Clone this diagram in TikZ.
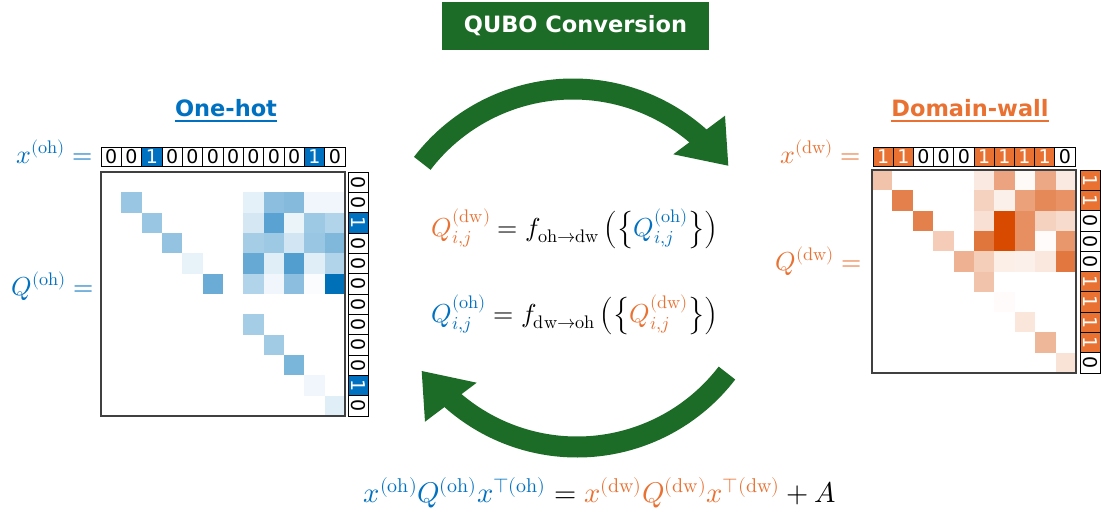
\documentclass[tikz,border=0pt]{standalone}
\usepackage{fontspec}
\usepackage{unicode-math}
\setmainfont{DejaVu Sans}
\setmathfont{Latin Modern Math}
\definecolor{ohblue}{HTML}{0070C0}
\definecolor{dworange}{HTML}{E97132}
\definecolor{ohcell}{HTML}{0070B8}
\definecolor{dwcell}{HTML}{D84A00}
\definecolor{qgreen}{HTML}{1C6B26}
\definecolor{boxgray}{HTML}{404040}
\newcommand{\oh}{\symup{oh}}
\newcommand{\dw}{\symup{dw}}
\tikzset{
  bitbox/.style={draw=black, line width=0.8pt, inner sep=0pt, anchor=center,
    font=\fontsize{19}{19}\selectfont},
  bz/.style={bitbox, fill=white, text=black},
  ohb/.style={bitbox, fill=ohblue, text=white},
  dwb/.style={bitbox, fill=dworange, text=white},
  heading/.style={font=\fontsize{22.5}{26}\selectfont\bfseries, inner sep=0pt, anchor=base},
  mathlbl/.style={font=\fontsize{26}{30}\selectfont, inner sep=0pt},
  bigmath/.style={font=\fontsize{28.5}{32}\selectfont, inner sep=0pt},
  bigarrow/.style={draw=qgreen, line width=21pt},
  headfill/.style={fill=qgreen},
  frame/.style={draw=boxgray, line width=1.3pt}
}
\begin{document}
\begin{tikzpicture}[x=1pt,y=1pt]
\useasboundingbox (0,0) rectangle (1101,-517);

% title
\node[fill=qgreen, text=white, minimum width=267pt, minimum height=48pt, inner sep=0pt,
  font=\fontsize{22.5}{26}\selectfont\bfseries] (title) at (575.5,-26) {QUBO Conversion};

% headings
\node[heading, text=ohblue] (hoh) at (226,-116.7) {One-hot};
\draw[ohblue, line width=1.8pt] ([yshift=-4.5pt]hoh.base west) -- ([yshift=-4.5pt]hoh.base east);
\node[heading, text=dworange] (hdw) at (970,-116.7) {Domain-wall};
\draw[dworange, line width=1.8pt] ([yshift=-4.5pt]hdw.base west) -- ([yshift=-4.5pt]hdw.base east);

% labels
\node[mathlbl, anchor=base east] (xoh) at (93,-163) {\color{ohblue}$x^{(\oh)}=$};
\node[mathlbl, anchor=base east] (qoh) at (94,-295) {\color{ohblue}$Q^{(\oh)}=$};
\node[mathlbl, anchor=base east] (xdw) at (861,-163) {\color{dworange}$x^{(\dw)}=$};
\node[mathlbl, anchor=base east] (qdw) at (862,-270) {\color{dworange}$Q^{(\dw)}=$};

% one-hot matrix cells
\foreach \r/\c/\v in {1/1/40, 1/7/10, 1/8/45, 1/9/48, 1/10/6, 1/11/6,
  2/2/40, 2/7/17, 2/8/65, 2/9/8, 2/10/38, 2/11/30,
  3/3/42, 3/7/35, 3/8/38, 3/9/18, 3/10/40, 3/11/50,
  4/4/9, 4/7/60, 4/8/12, 4/9/68, 4/10/12, 4/11/30,
  5/5/58, 5/7/30, 5/8/6, 5/9/45, 5/10/2, 5/11/100,
  7/7/35, 8/8/37, 9/9/52, 10/10/6, 11/11/12}
  \fill[ohcell!\v!white] ({101+20.333*\c},{-172-20.333*\r}) rectangle ++(20.333,-20.333);
\draw[frame] (101,-172) rectangle (345,-416);

% domain-wall matrix cells
\foreach \r/\c/\v in {0/0/33, 0/5/12, 0/6/50, 0/7/3, 0/8/48, 0/9/12,
  1/1/70, 1/5/25, 1/6/8, 1/7/52, 1/8/65, 1/9/60,
  2/2/70, 2/5/17, 2/6/100, 2/7/62, 2/8/25, 2/9/20,
  3/3/28, 3/5/76, 3/6/100, 3/7/62, 3/8/2, 3/9/58,
  4/4/43, 4/5/27, 4/6/9, 4/7/8, 4/8/13, 4/9/75,
  5/5/33, 6/6/2, 7/7/14, 8/8/40, 9/9/16}
  \fill[dwcell!\v!white] ({872+20.4*\c},{-170-20.3*\r}) rectangle ++(20.4,-20.3);
\draw[frame] (872,-170) rectangle (1076,-373);

% one-hot vectors
\foreach \b/\s [count=\i from 0] in {0/bz,0/bz,1/ohb,0/bz,0/bz,0/bz,0/bz,0/bz,0/bz,0/bz,1/ohb,0/bz}{
  \node[\s, minimum width=20.333pt, minimum height=19pt] (ohr\i) at ({101+20.333*(\i+0.5)},-156.5) {\b};
  \node[\s, rotate=-90, minimum width=20.333pt, minimum height=20pt] (ohc\i) at (358,{-172-20.333*(\i+0.5)}) {\b};
}
% domain-wall vectors
\foreach \b/\s [count=\i from 0] in {1/dwb,1/dwb,0/bz,0/bz,0/bz,1/dwb,1/dwb,1/dwb,1/dwb,0/bz}{
  \node[\s, minimum width=20.2pt, minimum height=19pt] (dwr\i) at ({873+20.2*(\i+0.5)},-156.5) {\b};
  \node[\s, rotate=-90, minimum width=20.3pt, minimum height=20pt] (dwc\i) at (1090,{-170-20.3*(\i+0.5)}) {\b};
}

% formulas
\node[mathlbl] (f1) at (575,-229) {$\textcolor{dworange}{Q^{(\dw)}_{i,j}} = f_{\oh\to\dw}\left(\left\{\textcolor{ohblue}{Q^{(\oh)}_{i,j}}\right\}\right)$};
\node[mathlbl] (f2) at (575,-315) {$\textcolor{ohblue}{Q^{(\oh)}_{i,j}} = f_{\dw\to\oh}\left(\left\{\textcolor{dworange}{Q^{(\dw)}_{i,j}}\right\}\right)$};
\node[bigmath] (f3) at (600,-493) {$\textcolor{ohblue}{x^{(\oh)}Q^{(\oh)}x^{\top(\oh)}} = \textcolor{dworange}{x^{(\dw)}Q^{(\dw)}x^{\top(\dw)}} + A$};

% arrows
\draw[bigarrow] (573,-279) ++(142.5:190) arc[start angle=142.5, end angle=47.5, radius=190];
\fill[headfill] (725,-115.7) -- (728.3,-165.7) -- (673.3,-154.3) -- cycle;
\draw[bigarrow] (577,-258) ++(-37.5:189) arc[start angle=-37.5, end angle=-132.5, radius=189];
\fill[headfill] (476.7,-382.7) -- (421.7,-371) -- (425,-421.7) -- cycle;
\end{tikzpicture}
\end{document}
